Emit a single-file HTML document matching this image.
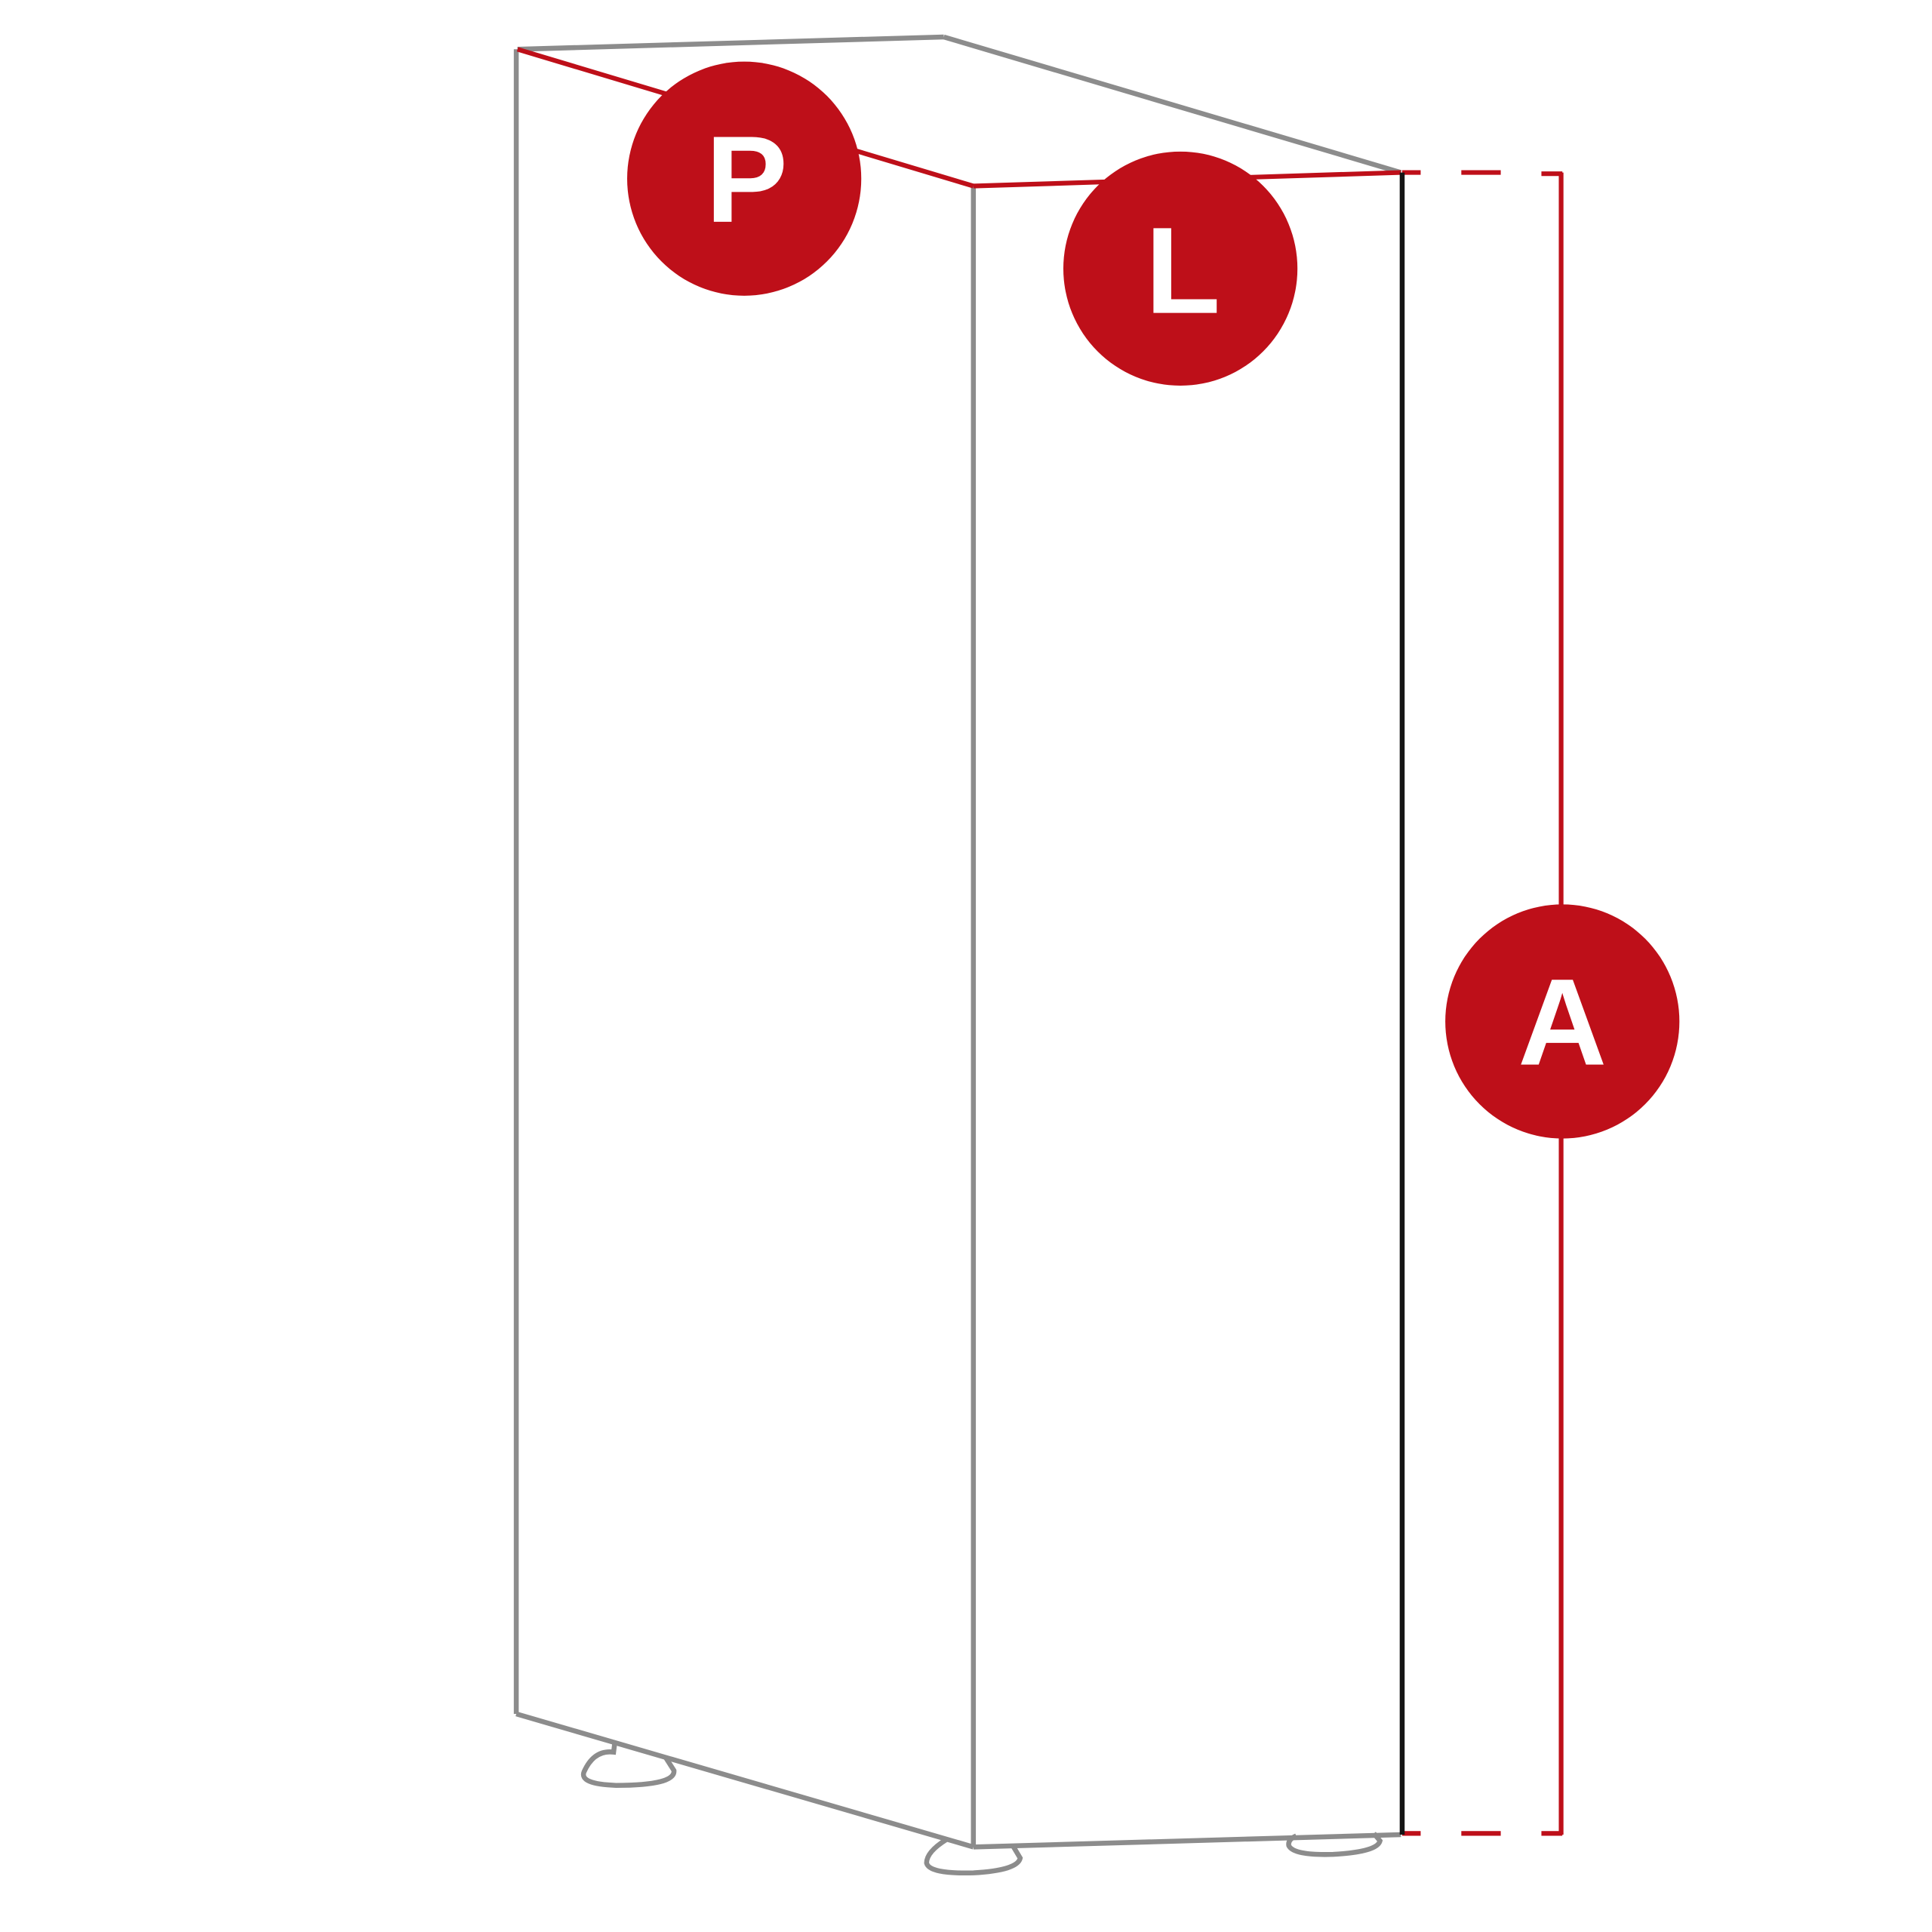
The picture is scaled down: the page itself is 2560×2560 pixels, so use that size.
<!DOCTYPE html>
<html><head><meta charset="utf-8"><style>
html,body{margin:0;padding:0;background:#fff;}
svg{display:block;}
</style></head><body>
<svg width="2560" height="2560" viewBox="0 0 1568 1568" xmlns="http://www.w3.org/2000/svg">
<g fill="none" stroke-width="4">
  <g stroke="#8c8c8c">
    <line x1="420" y1="40" x2="766" y2="30"/>
    <line x1="766" y1="30" x2="1137" y2="140"/>
    <line x1="419" y1="40" x2="419" y2="1391"/>
    <line x1="790" y1="151" x2="790" y2="1499"/>
    <line x1="419" y1="1391" x2="790" y2="1499"/>
    <line x1="790" y1="1499" x2="1137" y2="1489"/>
    <path d="M499 1414 L498 1422 Q482 1420 474 1438 Q470 1448 500 1449 Q548 1449 547 1437 L540 1426"/>
    <path d="M768 1493 Q752 1503 752 1512 Q754 1521 790 1520 Q826 1518 828 1508 L822 1498"/>
    <path d="M1052 1490 Q1045 1493 1046 1498 Q1050 1506 1082 1505 Q1118 1503 1120 1494 L1115 1488"/>
  </g>
  <g stroke="#be0f19" stroke-width="3.8">
    <line x1="420" y1="40" x2="790" y2="151"/>
    <line x1="790" y1="151" x2="1137" y2="140"/>
    <line x1="1138" y1="140" x2="1153" y2="140"/>
    <line x1="1186" y1="140" x2="1218" y2="140"/>
    <line x1="1251" y1="141" x2="1268" y2="141"/>
    <line x1="1267" y1="140" x2="1267" y2="1489"/>
    <line x1="1138" y1="1488" x2="1153" y2="1488"/>
    <line x1="1186" y1="1488" x2="1218" y2="1488"/>
    <line x1="1251" y1="1488" x2="1268" y2="1488"/>
  </g>
  <line x1="1138" y1="140" x2="1138" y2="1489" stroke="#151515" stroke-width="4"/>
</g>
<g fill="#be0f19">
  <circle cx="604" cy="145" r="95"/>
  <circle cx="958" cy="218" r="95"/>
  <circle cx="1268" cy="829" r="95"/>
</g>
<g fill="#fff" font-family="Liberation Sans, sans-serif" font-weight="bold" font-size="100" text-anchor="middle">
  <text x="606" y="180">P</text>
  <text x="960" y="254">L</text>
  <text x="1268" y="864">A</text>
</g>
</svg>
</body></html>
